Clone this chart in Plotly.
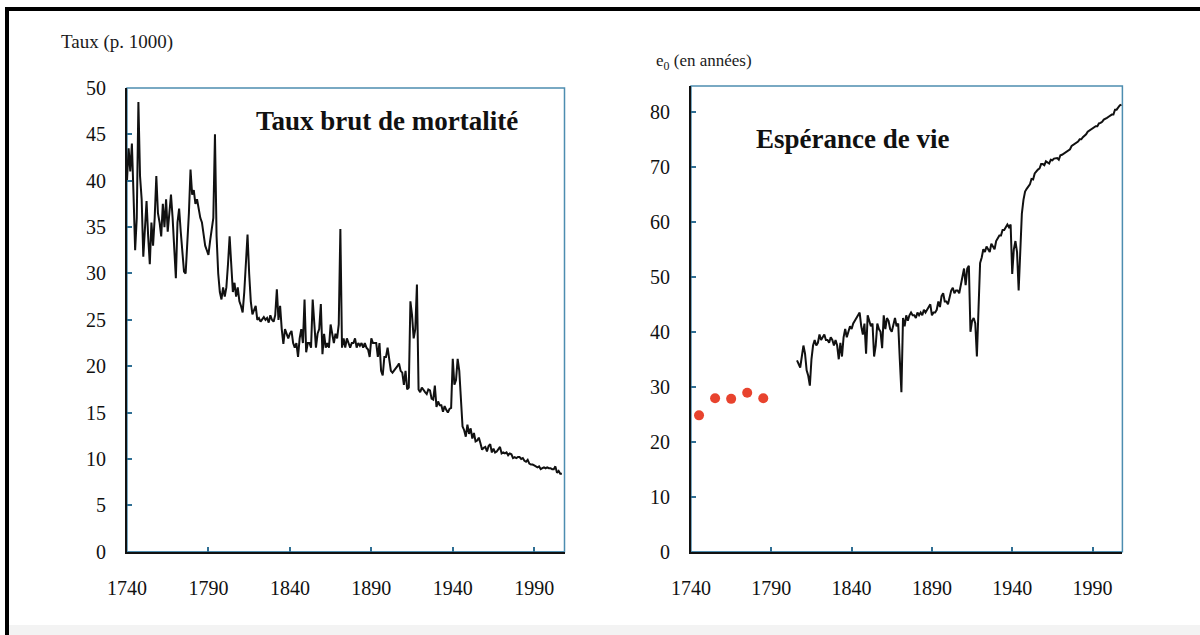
import plotly.graph_objects as go

# ---------------- data ----------------
cdr_years = list(range(1740, 2008))
cdr_values = [
    40.0, 43.5, 41.0, 44.0, 38.5, 32.5, 36.0, 48.5, 40.5, 38.0,   # 1740-1749
    31.8, 35.0, 37.8, 34.0, 31.0, 35.5, 33.0, 36.0, 40.5, 36.5,   # 1750-1759
    35.5, 34.0, 37.5, 35.0, 38.0, 34.5, 36.5, 38.5, 36.0, 33.0,   # 1760-1769
    29.5, 35.5, 37.0, 34.5, 32.0, 30.2, 30.0, 33.0, 36.5, 41.2,   # 1770-1779
    38.5, 39.0, 37.5, 38.0, 37.0, 36.0, 35.5, 34.0, 33.0, 32.5,   # 1780-1789
    32.0, 33.5, 35.0, 36.0, 45.0, 34.0, 30.0, 28.0, 27.2, 28.5,   # 1790-1799
    27.5, 28.5, 31.0, 34.0, 31.0, 28.0, 29.0, 27.5, 28.5, 27.0,   # 1800-1809
    26.5, 25.8, 28.0, 31.0, 34.2, 30.0, 27.0, 25.6, 26.0, 26.5,   # 1810-1819
    25.0, 25.2, 24.8, 25.0, 25.3, 25.0, 25.2, 24.7, 25.5, 25.0,   # 1820-1829
    24.8, 25.5, 28.3, 25.0, 26.5, 24.0, 22.4, 24.0, 23.5, 23.0,   # 1830-1839
    23.5, 23.8, 22.5, 22.0, 22.5, 21.0, 23.0, 24.0, 22.5, 27.2,   # 1840-1849
    21.5, 22.5, 22.5, 22.0, 27.2, 25.0, 22.0, 23.5, 24.0, 26.7,   # 1850-1859
    21.3, 23.5, 22.0, 22.5, 22.0, 24.5, 23.5, 22.5, 23.5, 23.0,   # 1860-1869
    24.5, 34.8, 22.0, 23.0, 22.0, 23.0, 22.5, 22.0, 22.5, 22.5,   # 1870-1879
    23.0, 22.0, 22.5, 22.2, 22.5, 22.0, 22.5, 22.0, 21.8, 21.0,   # 1880-1889
    23.0, 22.5, 22.5, 22.5, 21.0, 22.5, 19.5, 19.0, 21.0, 21.0,   # 1890-1899
    22.0, 20.5, 19.5, 19.3, 19.5, 19.8, 20.0, 20.3, 19.5, 19.3,   # 1900-1909
    18.0, 19.5, 17.5, 17.7, 27.0, 25.5, 23.0, 24.0, 28.8, 17.5,   # 1910-1919
    17.2, 17.7, 17.4, 17.2, 17.0, 17.5, 17.4, 16.5, 16.4, 17.9,   # 1920-1929
    15.6, 16.2, 15.8, 15.8, 15.1, 15.7, 15.3, 15.0, 15.4, 15.5,   # 1930-1939
    20.8, 18.0, 18.5, 20.8, 19.5, 16.3, 13.5, 13.1, 12.4, 13.7,   # 1940-1949
    12.7, 13.3, 12.2, 12.8, 11.9, 12.0, 12.3, 11.7, 11.0, 11.2,   # 1950-1959
    11.3, 10.8, 11.4, 11.6, 10.7, 11.1, 10.7, 10.8, 11.0, 11.3,   # 1960-1969
    10.6, 10.7, 10.6, 10.7, 10.4, 10.6, 10.5, 10.1, 10.2, 10.1,   # 1970-1979
    10.2, 10.2, 10.0, 10.1, 9.8, 9.7, 9.9, 9.5, 9.4, 9.4,         # 1980-1989
    9.3, 9.2, 9.1, 9.2, 8.9, 9.0, 9.1, 9.0, 9.1, 9.0,             # 1990-1999
    9.0, 8.9, 8.9, 9.2, 8.5, 8.7, 8.4, 8.4,                       # 2000-2007
]

e0_years = list(range(1806, 2009))
e0_values = [
    34.8, 34.0, 33.5, 35.5,                                       # 1806-1809
    37.5, 36.0, 33.0, 32.0, 30.2, 35.0, 37.5, 38.5, 37.5, 38.0,   # 1810-1819
    39.5, 38.5, 39.0, 39.5, 38.5, 38.5, 38.0, 39.0, 38.5, 37.5,   # 1820-1829
    38.5, 37.5, 35.0, 38.0, 35.5, 39.0, 40.5, 39.0, 40.0, 41.0,   # 1830-1839
    40.5, 41.5, 42.0, 42.5, 43.0, 43.5, 41.0, 39.5, 41.5, 36.0,   # 1840-1849
    43.0, 42.0, 41.0, 41.5, 35.5, 37.5, 41.5, 40.5, 40.0, 37.0,   # 1850-1859
    43.0, 40.5, 42.5, 42.0, 40.5, 40.0, 41.5, 42.5, 41.0, 41.5,   # 1860-1869
    35.0, 29.0, 42.5, 41.0, 43.0, 42.0, 43.0, 43.5, 43.0, 43.0,   # 1870-1879
    42.5, 43.5, 43.0, 43.5, 43.0, 44.0, 43.5, 44.0, 44.5, 45.0,   # 1880-1889
    43.0, 43.5, 43.5, 44.0, 45.5, 44.5, 46.5, 47.0, 45.5, 45.5,   # 1890-1899
    45.0, 46.5, 47.5, 48.0, 47.0, 47.5, 47.5, 47.0, 48.5, 49.5,   # 1900-1909
    51.5, 48.5, 51.5, 52.0, 40.0, 42.0, 42.5, 41.5, 35.5, 44.0,   # 1910-1919
    52.5, 53.5, 55.0, 54.5, 55.5, 55.0, 54.5, 56.0, 55.5, 55.0,   # 1920-1929
    56.5, 57.0, 57.5, 57.5, 58.5, 58.5, 59.0, 59.5, 59.0, 59.5,   # 1930-1939
    50.5, 55.0, 56.5, 54.5, 47.5, 55.0, 61.5, 64.0, 65.5, 66.0,   # 1940-1949
    66.5, 66.8, 67.8, 67.7, 68.8, 69.2, 69.5, 69.7, 70.5, 70.5,   # 1950-1959
    70.3, 71.0, 70.8, 70.6, 71.3, 71.2, 71.5, 71.6, 71.6, 71.3,   # 1960-1969
    72.1, 72.2, 72.4, 72.7, 72.9, 73.0, 73.2, 73.8, 74.0, 74.3,   # 1970-1979
    74.4, 74.6, 75.0, 75.0, 75.4, 75.6, 75.9, 76.4, 76.6, 76.8,   # 1980-1989
    77.0, 77.2, 77.4, 77.4, 77.9, 78.0, 78.2, 78.6, 78.7, 78.9,   # 1990-1999
    79.1, 79.3, 79.5, 79.5, 80.4, 80.4, 80.9, 81.2, 81.3,         # 2000-2008
]

decade_years = [1745, 1755, 1765, 1775, 1785]
decade_e0 = [24.8, 27.9, 27.8, 28.9, 27.9]

x_ticks = [1740, 1790, 1840, 1890, 1940, 1990]
y_ticks_left = [0, 5, 10, 15, 20, 25, 30, 35, 40, 45, 50]
y_ticks_right = [0, 10, 20, 30, 40, 50, 60, 70, 80]

title_left = "Taux brut de mortalité"
title_right = "Espérance de vie"
ylabel_left = "Taux (p. 1000)"
ylabel_right = "e<sub>0</sub> (en années)"

# ---------------- layout geometry (pixels in 1200x635) ----------------
W, H = 1200, 635
def px(x):
    return x / W
def py(y):
    return 1 - y / H

SERIF = "Liberation Serif, Times New Roman, serif"
TICKFONT = dict(family=SERIF, size=20, color="#111111")
BOX_BLUE = "#4d8db0"
TICK_BLUE = "#2f6f94"

fig = go.Figure()

fig.add_trace(go.Scatter(x=cdr_years, y=cdr_values, mode="lines",
                         line=dict(color="#111111", width=2),
                         xaxis="x", yaxis="y", showlegend=False))
fig.add_trace(go.Scatter(x=e0_years, y=e0_values, mode="lines",
                         line=dict(color="#111111", width=2),
                         xaxis="x2", yaxis="y2", showlegend=False))
fig.add_trace(go.Scatter(x=decade_years, y=decade_e0, mode="markers",
                         marker=dict(color="#e8432e", size=10),
                         xaxis="x2", yaxis="y2", showlegend=False))

common_x = dict(range=[1740, 2008.6], tickvals=x_ticks, ticks="inside",
                ticklen=5, tickwidth=2, tickcolor=TICK_BLUE,
                showline=True, linecolor="#111111", linewidth=2,
                showgrid=False, zeroline=False, tickfont=TICKFONT,
                ticklabelstandoff=17, automargin=False, fixedrange=True)
common_y = dict(ticks="inside", ticklen=5, tickwidth=2, tickcolor=TICK_BLUE,
                showline=True, linecolor="#111111", linewidth=2,
                showgrid=False, zeroline=False, tickfont=TICKFONT,
                ticklabelstandoff=15, automargin=False, fixedrange=True)

fig.update_layout(
    template="none",
    width=W, height=H, autosize=False,
    margin=dict(l=0, r=0, t=0, b=0, pad=0),
    paper_bgcolor="white", plot_bgcolor="white",
    xaxis=dict(domain=[px(127), px(564.5)], anchor="y", **common_x),
    yaxis=dict(domain=[py(551.7), py(88)], anchor="x", range=[0, 50],
               tickvals=y_ticks_left, **common_y),
    xaxis2=dict(domain=[px(691), px(1122.4)], anchor="y2", **common_x),
    yaxis2=dict(domain=[py(551.7), py(86)], anchor="x2", range=[0, 84.7],
                tickvals=y_ticks_right, **common_y),
    hovermode=False,
)

shapes = [
    # plot boxes (top/right in blue)
    dict(type="rect", xref="x domain", yref="y domain", x0=0, x1=1, y0=0, y1=1,
         line=dict(color=BOX_BLUE, width=1.5), layer="below"),
    dict(type="rect", xref="x2 domain", yref="y2 domain", x0=0, x1=1, y0=0, y1=1,
         line=dict(color=BOX_BLUE, width=1.5), layer="below"),
    # outer frame
    dict(type="line", xref="paper", yref="paper", x0=px(5), x1=1.0,
         y0=py(9), y1=py(9), line=dict(color="black", width=4)),
    dict(type="line", xref="paper", yref="paper", x0=px(7), x1=px(7),
         y0=py(7), y1=0, line=dict(color="black", width=4)),
    dict(type="rect", xref="paper", yref="paper", x0=px(9), x1=1.0,
         y0=0, y1=py(625), fillcolor="#f3f3f3", line=dict(width=0), layer="below"),
]
fig.update_layout(shapes=shapes)

annotations = [
    dict(text="<b>%s</b>" % title_left, x=px(387), y=py(121), xref="paper", yref="paper",
         showarrow=False, xanchor="center", yanchor="middle",
         font=dict(family=SERIF, size=27, color="#111111")),
    dict(text="<b>%s</b>" % title_right, x=px(852), y=py(139), xref="paper", yref="paper",
         showarrow=False, xanchor="center", yanchor="middle",
         font=dict(family=SERIF, size=27, color="#111111")),
    dict(text=ylabel_left, x=px(59), y=py(42), xref="paper", yref="paper",
         showarrow=False, xanchor="left", yanchor="middle",
         font=dict(family=SERIF, size=19, color="#1a1a1a")),
    dict(text=ylabel_right, x=px(654), y=py(62), xref="paper", yref="paper",
         showarrow=False, xanchor="left", yanchor="middle",
         font=dict(family=SERIF, size=17, color="#1a1a1a")),
]
fig.update_layout(annotations=annotations)

fig.write_html(
    "out.html",
    config={"displayModeBar": False, "staticPlot": True},
    post_script="document.body.style.margin='0';document.body.style.overflow='hidden';",
)
